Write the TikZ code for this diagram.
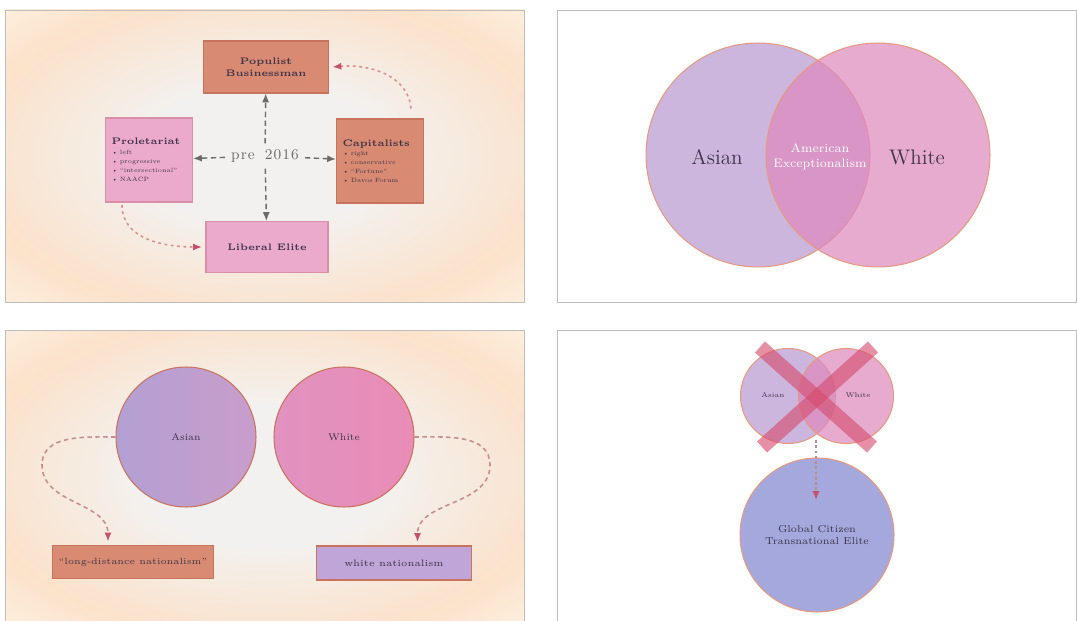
\documentclass[tikz,border=0pt]{standalone}
\usepackage{tikz}
\usetikzlibrary{shapes}
\usetikzlibrary{arrows.meta}

\definecolor{cream}{HTML}{FEF8EA}
\definecolor{peach}{HTML}{FBE2CB}
\definecolor{mist}{HTML}{F3F1EF}
\definecolor{frame}{HTML}{BDBDBD}
\definecolor{terra}{HTML}{D98A72}
\definecolor{terraline}{HTML}{C8735E}
\definecolor{rosebox}{HTML}{EBAACB}
\definecolor{roseline}{HTML}{D98FA8}
\definecolor{lilac}{HTML}{CCB6DE}
\definecolor{pinkfill}{HTML}{DE88BC}
\definecolor{rimline}{HTML}{E59A80}
\definecolor{inkdark}{HTML}{3E3448}
\definecolor{arrgray}{HTML}{6A6A6A}
\definecolor{dashred}{HTML}{D99090}
\definecolor{tipred}{HTML}{C4506A}
\definecolor{asianL}{HTML}{B3A0D3}
\definecolor{asianR}{HTML}{C89DCB}
\definecolor{whiteL}{HTML}{E192C0}
\definecolor{whiteR}{HTML}{E98CB6}
\definecolor{lavbox}{HTML}{C0A5D8}
\definecolor{globeblue}{HTML}{A4A8DD}
\definecolor{crossred}{HTML}{D64C6E}

\pgfdeclareradialshading{glow}{\pgfpoint{0bp}{0bp}}{color(0bp)=(mist); color(12bp)=(mist); color(28bp)=(peach); color(41bp)=(cream); color(80bp)=(cream)}

\tikzset{
  panel/.style={draw=frame, line width=0.5pt},
  terrabox/.style={draw=terraline, fill=terra, line width=0.6pt, text=inkdark},
  rosebx/.style={draw=roseline, fill=rosebox, line width=0.6pt, text=inkdark},
  boxtitle/.style={font=\fontsize{5.4}{6.6}\selectfont\bfseries, align=center},
  listbox/.style={font=\fontsize{3.5}{5.2}\selectfont, align=left, text width=1.5cm,
    minimum width=1.74cm, minimum height=1.68cm, inner sep=0.12cm},
  greyarr/.style={-{Latex[length=5pt,width=4pt]}, draw=arrgray, densely dashed, line width=0.8pt},
  redarr/.style={-{Latex[length=5pt,width=4pt,color=tipred]}, draw=dashred,
    dash pattern=on 1.6pt off 2pt, line width=0.9pt},
  venn/.style={circle, draw=rimline, line width=0.6pt, inner sep=0pt},
  inklabel/.style={text=inkdark},
  crossbar/.style={draw=crossred, opacity=0.62, line width=8.5pt},
}

\begin{document}
\begin{tikzpicture}[x=0.02cm, y=-0.02cm]
\useasboundingbox (0,0) rectangle (1077,621);
\clip (0,0) rectangle (1077,621);
\fill[white] (0,0) rectangle (1077,621);
\foreach \x/\y in {5/10, 5/330} \shade[shading=glow] (\x,\y) rectangle +(519,292);
\foreach \x/\y in {5/10, 557/10, 5/330, 557/330} \draw[panel] (\x,\y) rectangle +(519,292);

% top left: the four classes
\node[terrabox, boxtitle, minimum width=2.5cm, minimum height=1.04cm] (pop) at (266,67) {Populist\\Businessman};
\node[rosebx, boxtitle, minimum width=2.44cm, minimum height=1.02cm] (lib) at (267,247) {Liberal Elite};
\node[rosebx, listbox] (prol) at (149,160) {{\fontsize{5.4}{7.5}\selectfont\bfseries Proletariat}\\
  \textbullet\ left\\ \textbullet\ progressive\\ \textbullet\ ``intersectional''\\ \textbullet\ NAACP\\[4pt]};
\node[terrabox, listbox] (cap) at (380,161) {{\fontsize{5.4}{7.5}\selectfont\bfseries Capitalists}\\
  \textbullet\ right\\ \textbullet\ conservative\\ \textbullet\ ``Fortune''\\ \textbullet\ Davos Forum\\[4pt]};
\node[text=arrgray, font=\fontsize{8.5}{10}\selectfont] (pre) at (265,156) {p\kern.6pt r\kern.6pt e\ \ 2\kern.6pt 0\kern.6pt 1\kern.6pt 6};
\draw[greyarr] (pre) -- (prol);
\draw[greyarr] (pre) -- (cap);
\draw[greyarr] (pre) -- (pop);
\draw[greyarr] (pre) -- (lib);
\draw[redarr] ([xshift=-0.26cm,yshift=0.2cm]cap.north east) to[out=95,in=5] ([xshift=2pt]pop.east);
\draw[redarr] ([xshift=0.34cm,yshift=-0.05cm]prol.south west) to[out=-90,in=180] ([xshift=-2pt]lib.west);

% top right: venn
\node[venn, fill=lilac, minimum size=4.48cm] (asianV) at (758,155) {};
\node[venn, fill=pinkfill, fill opacity=0.7, minimum size=4.48cm] (whiteV) at (878,155) {};
\node[inklabel, font=\fontsize{12}{13}\selectfont] (asianT) at (717,157) {Asian};
\node[inklabel, font=\fontsize{12}{13}\selectfont] (whiteT) at (917,157) {White};
\node[text=white, align=center, font=\fontsize{7}{8.3}\selectfont] (amex) at (820,157) {American\\Exceptionalism};

% bottom left: nationalisms
\node[venn, draw=terraline, left color=asianL, right color=asianR, minimum size=2.8cm,
  inklabel, font=\fontsize{5.5}{7}\selectfont] (asianC) at (186,437) {Asian};
\node[venn, draw=terraline, left color=whiteL, right color=whiteR, minimum size=2.8cm,
  inklabel, font=\fontsize{5.5}{7}\selectfont] (whiteC) at (344,437) {White};
\node[terrabox, minimum width=3.12cm, minimum height=0.66cm, font=\fontsize{5.1}{6}\selectfont] (ldn) at (133,562) {``long-distance nationalism''};
\node[terrabox, fill=lavbox, minimum width=3.1cm, minimum height=0.68cm, font=\fontsize{5.3}{6}\selectfont] (wn) at (394,563) {white nationalism};
\draw[redarr, draw=dashred!80!gray, dash pattern=on 2.5pt off 2pt] (asianC.west) to[out=180,in=90] (42,465)
  to[out=-90,in=90] ([xshift=-0.5cm,yshift=2pt]ldn.north);
\draw[redarr, draw=dashred!80!gray, dash pattern=on 2.5pt off 2pt] (whiteC.east) to[out=0,in=90] (490,465)
  to[out=-90,in=90] ([xshift=0.47cm,yshift=2pt]wn.north);

% bottom right: crossed out
\node[venn, fill=lilac, minimum size=1.9cm] (asianS) at (788,396) {};
\node[venn, fill=pinkfill, fill opacity=0.7, minimum size=1.9cm] (whiteS) at (846,396) {};
\node[inklabel, font=\fontsize{3.9}{5}\selectfont] (asianST) at (773,395) {Asian};
\node[inklabel, font=\fontsize{3.9}{5}\selectfont] (whiteST) at (858,395) {White};
\draw[crossbar] (760,347) -- (872,447);
\draw[crossbar] (873,347) -- (762,447);
\node[venn, fill=globeblue, minimum size=3.08cm, align=center, inklabel,
  font=\fontsize{5.7}{7}\selectfont] (globe) at (817,535) {Global Citizen\\Transnational Elite};
\coordinate (lensb) at (816,440);
\coordinate (gtip) at (816,500);
\draw[redarr, draw=dashred!70!gray, dash pattern=on 1.5pt off 1.5pt] (lensb) -- (gtip);
\end{tikzpicture}
\end{document}
